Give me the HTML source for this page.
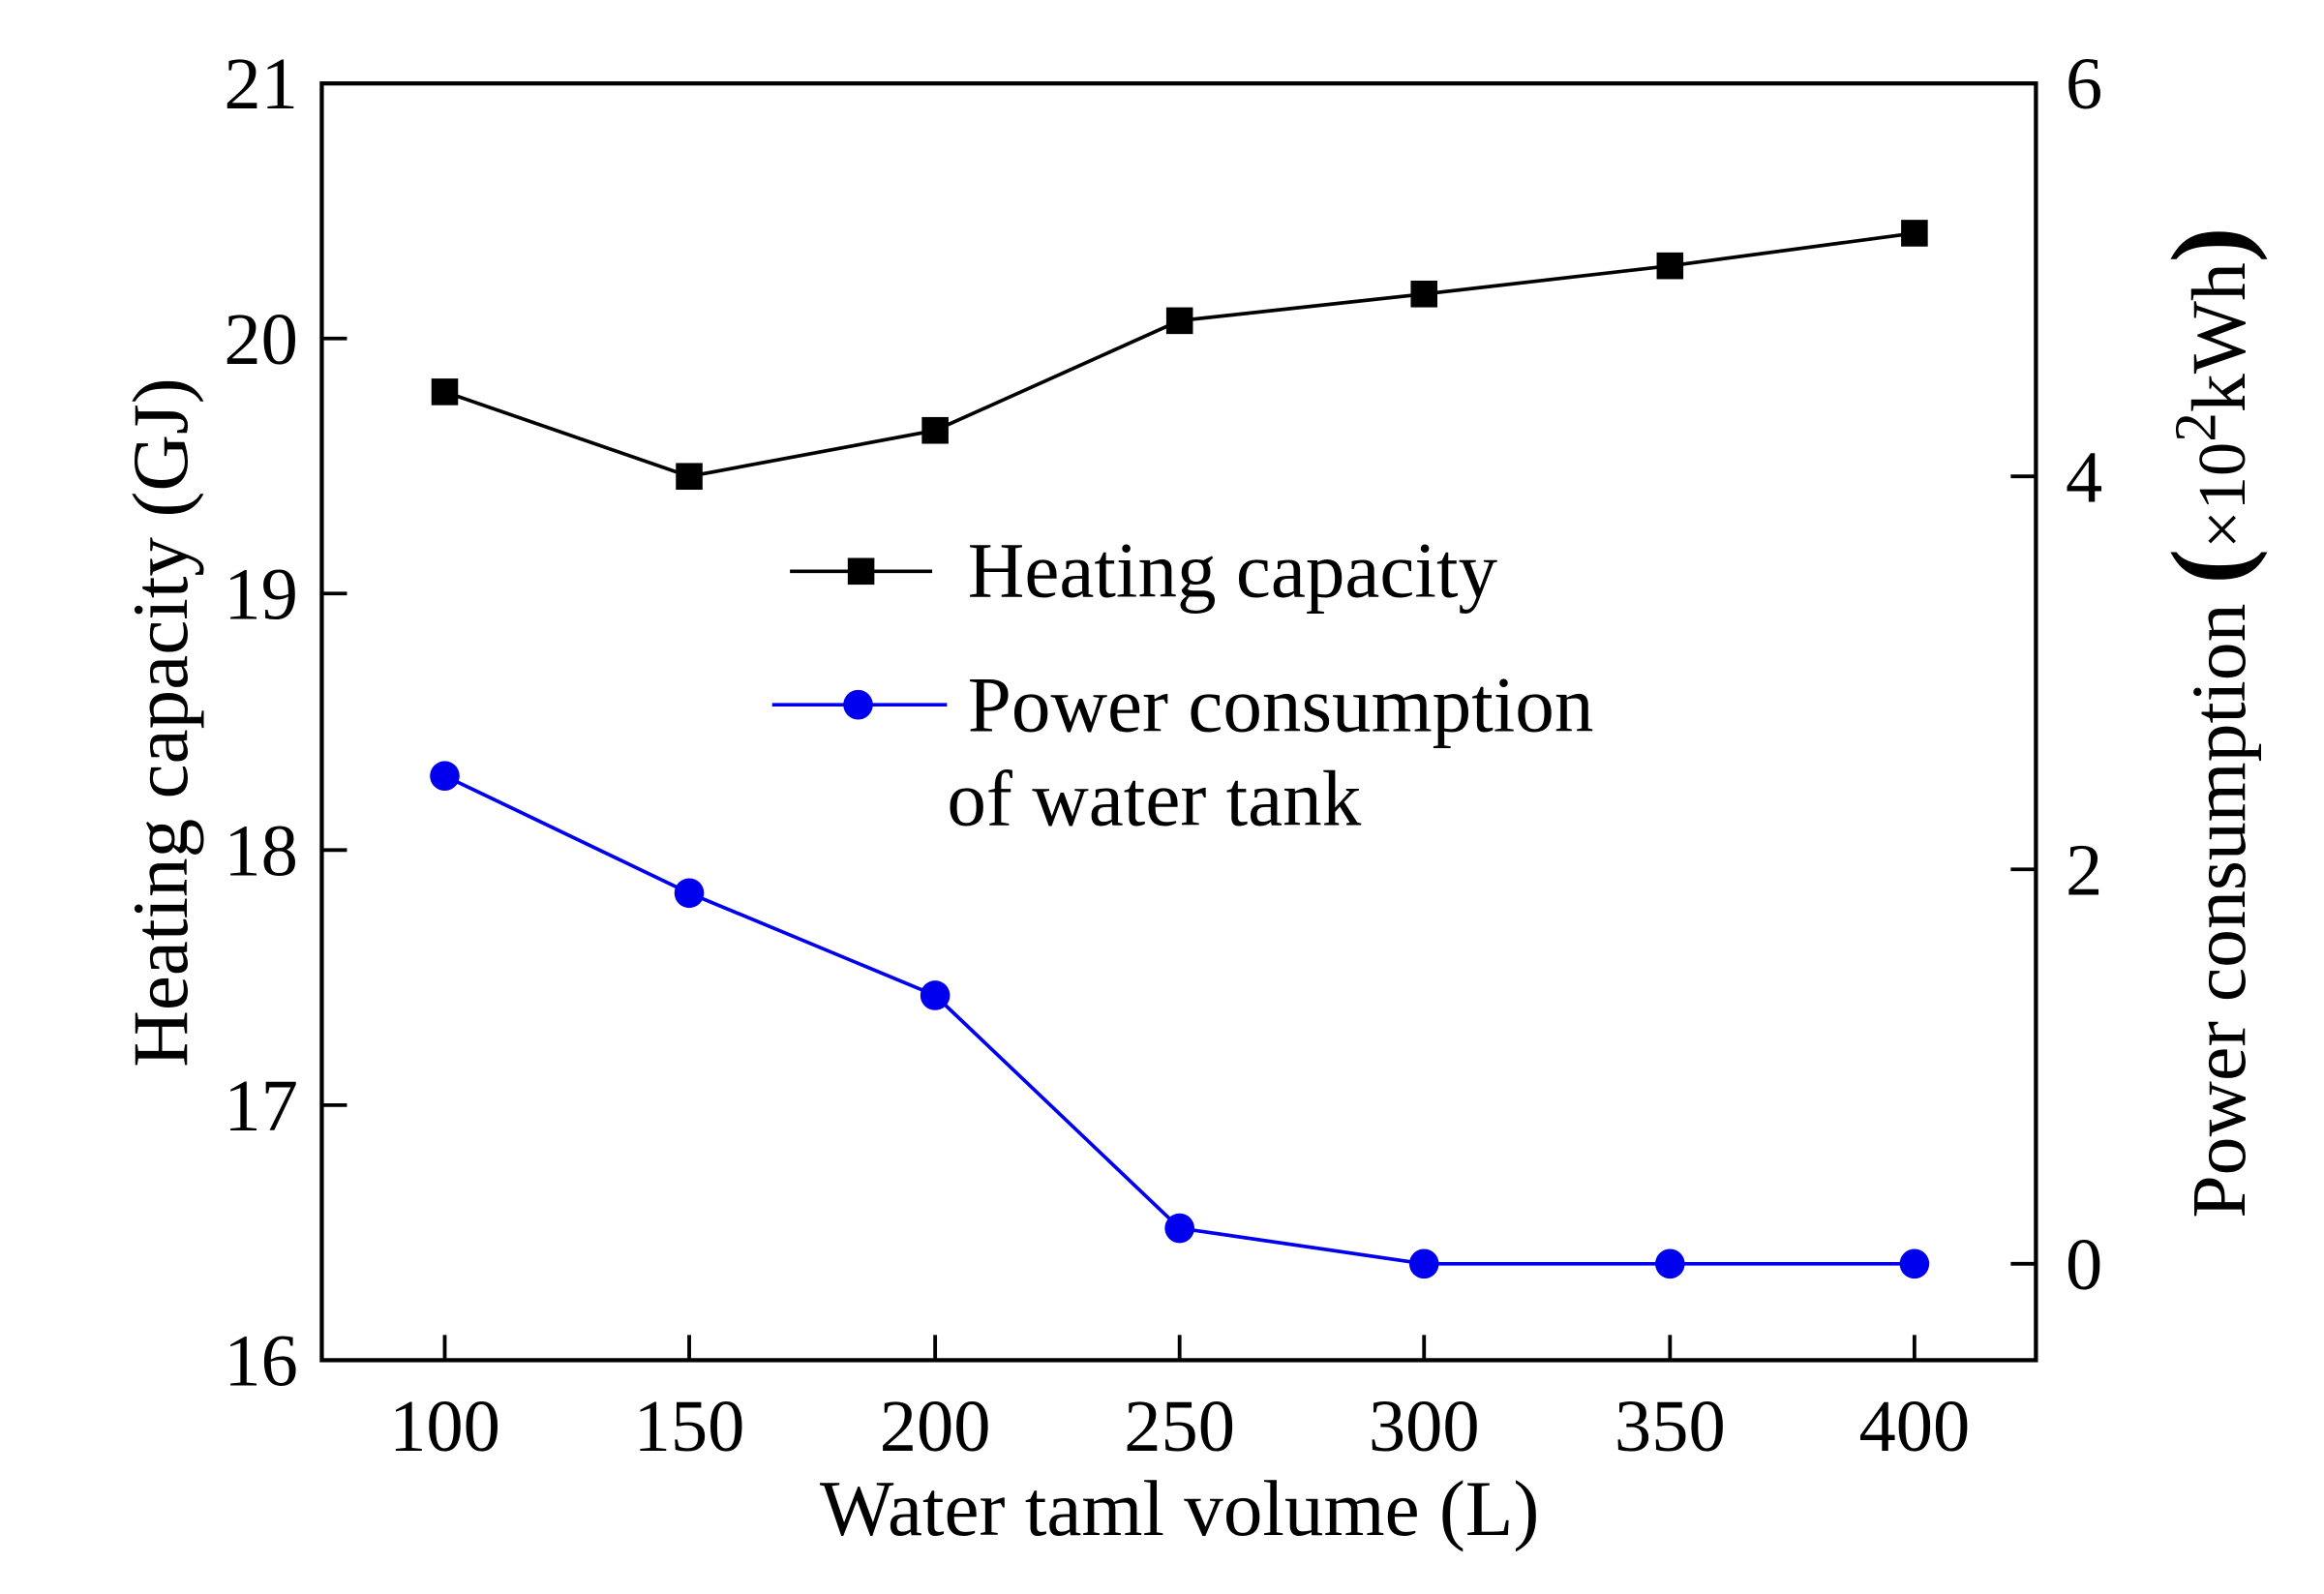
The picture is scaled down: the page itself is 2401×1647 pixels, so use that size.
<!DOCTYPE html>
<html><head><meta charset="utf-8"><style>html,body{margin:0;padding:0;background:#fff}svg{display:block}</style></head>
<body>
<svg width="2401" height="1647" viewBox="0 0 1560 1070" preserveAspectRatio="none" xmlns="http://www.w3.org/2000/svg" font-family="Liberation Serif, serif" fill="#000">
<g transform="translate(216,56) scale(0.9945,0.9954) translate(-216,-56)">
<rect x="216" y="56" width="1157" height="861" fill="none" stroke="#000" stroke-width="2.8"/>
<g stroke="#000" stroke-width="2.5">
<line x1="299" y1="917" x2="299" y2="900"/><line x1="464" y1="917" x2="464" y2="900"/><line x1="630" y1="917" x2="630" y2="900"/><line x1="795" y1="917" x2="795" y2="900"/><line x1="960" y1="917" x2="960" y2="900"/><line x1="1126" y1="917" x2="1126" y2="900"/><line x1="1291" y1="917" x2="1291" y2="900"/>
<line x1="216" y1="228" x2="233" y2="228"/><line x1="216" y1="400" x2="233" y2="400"/><line x1="216" y1="573" x2="233" y2="573"/><line x1="216" y1="745" x2="233" y2="745"/>
<line x1="1373" y1="321" x2="1356" y2="321"/><line x1="1373" y1="586" x2="1356" y2="586"/><line x1="1373" y1="852" x2="1356" y2="852"/>
</g>
<g font-size="50" text-anchor="middle">
<text x="299" y="978">100</text><text x="464" y="978">150</text><text x="630" y="978">200</text><text x="795" y="978">250</text><text x="960" y="978">300</text><text x="1126" y="978">350</text><text x="1291" y="978">400</text>
</g>
<g font-size="50" text-anchor="end">
<text x="200" y="73">21</text><text x="200" y="245">20</text><text x="200" y="417">19</text><text x="200" y="590">18</text><text x="200" y="762">17</text><text x="200" y="934">16</text>
</g>
<g font-size="50">
<text x="1393" y="73">6</text><text x="1393" y="338">4</text><text x="1393" y="603">2</text><text x="1393" y="869">0</text>
</g>
<text x="795" y="1035" font-size="53" text-anchor="middle">Water taml volume (L)</text>
<text transform="translate(125,487) rotate(-90)" font-size="53" text-anchor="middle">Heating capacity (GJ)</text>
<text transform="translate(1514,487) rotate(-90)" font-size="52" text-anchor="middle">Power consumption <tspan font-size="72" font-weight="bold">(</tspan><tspan font-size="46">×10</tspan><tspan font-size="40" dy="-20">2</tspan><tspan dy="20" font-size="52">kWh</tspan><tspan font-size="72" font-weight="bold">)</tspan></text>
<polyline fill="none" stroke="#000" stroke-width="2.4" points="299,264 464,321 630,290 795,216 960,198 1126,179 1291,157"/>
<g fill="#000">
<rect x="290" y="255" width="18" height="18"/><rect x="455" y="312" width="18" height="18"/><rect x="621" y="281" width="18" height="18"/><rect x="786" y="207" width="18" height="18"/><rect x="951" y="189" width="18" height="18"/><rect x="1117" y="170" width="18" height="18"/><rect x="1282" y="148" width="18" height="18"/>
</g>
<polyline fill="none" stroke="#0000ee" stroke-width="2.4" points="299,523 464,602 630,671 795,828 960,852 1126,852 1291,852"/>
<g fill="#0000ee">
<circle cx="299" cy="523" r="10"/><circle cx="464" cy="602" r="10"/><circle cx="630" cy="671" r="10"/><circle cx="795" cy="828" r="10"/><circle cx="960" cy="852" r="10"/><circle cx="1126" cy="852" r="10"/><circle cx="1291" cy="852" r="10"/>
</g>
<line x1="532" y1="385" x2="628" y2="385" stroke="#000" stroke-width="2.4"/><rect x="571" y="376" width="18" height="18"/>
<text x="652" y="402" font-size="53">Heating capacity</text>
<line x1="520" y1="475" x2="638" y2="475" stroke="#0000ee" stroke-width="2.4"/><circle cx="578" cy="475" r="10" fill="#0000ee"/>
<text x="652" y="493" font-size="53">Power consumption</text>
<text x="638" y="556" font-size="53">of water tank</text>
</g>
</svg>
</body></html>
